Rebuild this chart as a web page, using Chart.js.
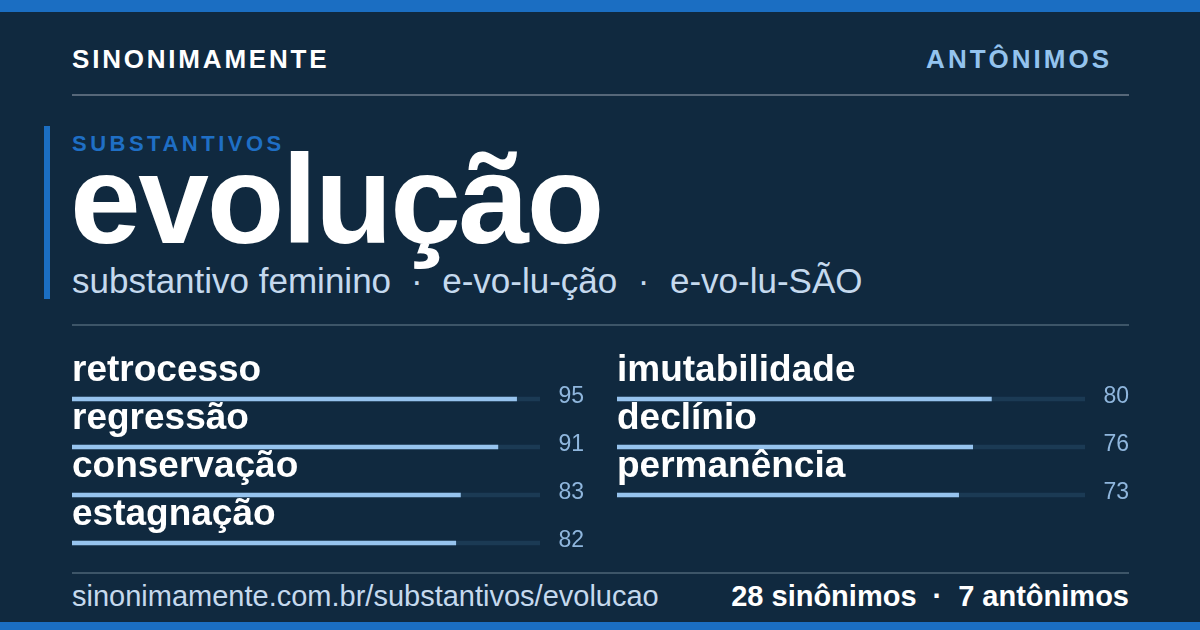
<!DOCTYPE html>
<html>
<head>
<meta charset="utf-8">
<script src="https://cdn.jsdelivr.net/npm/chart.js@4.4.0/dist/chart.umd.min.js"></script>
<style>
  html, body { margin: 0; padding: 0; }
  body { width: 1200px; height: 630px; background: #10293f; position: relative; overflow: hidden;
         font-family: "Liberation Sans", Arial, sans-serif; }
  .abs { position: absolute; line-height: 1; white-space: nowrap; }
  .band { position: absolute; left: 0; width: 1200px; background: #1b6ec2; }
  .rule { position: absolute; left: 72px; width: 1057px; height: 2px; }
  canvas { position: absolute; }
</style>
</head>
<body>
<div class="band" style="top:0;height:12px"></div>
<div class="band" style="top:622px;height:8px"></div>

<div class="abs" style="left:72px;top:46px;font-size:26px;font-weight:bold;letter-spacing:2.8px;color:#ffffff">SINONIMAMENTE</div>
<div class="abs" style="right:88px;top:46px;font-size:26px;font-weight:bold;letter-spacing:3px;color:#93c3ee">ANTÔNIMOS</div>
<div class="rule" style="top:94px;background:#566779"></div>

<div style="position:absolute;left:44px;top:126px;width:6px;height:173px;background:#1b6ec2"></div>
<div class="abs" style="left:72px;top:133px;font-size:22px;font-weight:bold;letter-spacing:3.5px;color:#1f6fc5">SUBSTANTIVOS</div>
<div class="abs" style="left:70px;top:136px;font-size:127px;font-weight:bold;letter-spacing:-2.3px;color:#ffffff">evolução</div>
<div class="abs" style="left:72px;top:263px;font-size:35px;color:#c5d9ee">substantivo feminino<span style="margin:0 19.5px 0 20px">·</span>e-vo-lu-ção<span style="margin:0 20.5px 0 20.5px">·</span>e-vo-lu-SÃO</div>
<div class="rule" style="top:324px;background:#3d5568"></div>

<canvas id="synChart" width="512" height="222" style="left:72px;top:345px"></canvas>
<canvas id="antChart" width="512" height="174" style="left:617px;top:345px"></canvas>

<div class="rule" style="top:572px;background:#3d5568"></div>
<div class="abs" style="left:72px;top:582px;font-size:29px;color:#c5d9ee">sinonimamente.com.br/substantivos/evolucao</div>
<div class="abs" style="right:71px;top:582px;font-size:29px;font-weight:bold;color:#ffffff">28 sinônimos<span style="margin:0 16px">·</span>7 antônimos</div>

<script>
const synonyms = ['retrocesso', 'regressão', 'conservação', 'estagnação'];
const synonymScores = [95, 91, 83, 82];
const antonyms = ['imutabilidade', 'declínio', 'permanência'];
const antonymScores = [80, 76, 73];
const scoreMax = 100;

// draws the word above each bar and the score at the right
const wordLabels = {
    id: 'wordLabels',
    afterDatasetsDraw(chart) {
        const ctx = chart.ctx;
        const meta = chart.getDatasetMeta(0);
        ctx.save();
        ctx.textBaseline = 'alphabetic';
        meta.data.forEach((bar, i) => {
            ctx.font = 'bold 37px "Liberation Sans", Arial, sans-serif';
            ctx.fillStyle = '#ffffff';
            ctx.textAlign = 'left';
            ctx.fillText(chart.data.labels[i], chart.chartArea.left, bar.y - 18);
            ctx.font = '23px "Liberation Sans", Arial, sans-serif';
            ctx.fillStyle = '#8fb6dd';
            ctx.textAlign = 'right';
            ctx.fillText(String(chart.data.datasets[0].data[i]), chart.width, bar.y + 4);
        });
        ctx.restore();
    }
};

function makeChart(id, labels, scores) {
    return new Chart(document.getElementById(id), {
        type: 'bar',
        data: {
            labels: labels,
            datasets: [
                {
                    data: scores,
                    backgroundColor: '#96c3ee',
                    barThickness: 4,
                    grouped: false,
                    order: 1
                },
                {
                    data: labels.map(() => scoreMax),
                    backgroundColor: '#1b3a54',
                    barThickness: 4,
                    grouped: false,
                    order: 2
                }
            ]
        },
        options: {
            indexAxis: 'y',
            responsive: false,
            animation: false,
            layout: { padding: { top: 30, right: 44, left: 0, bottom: 0 } },
            scales: {
                x: { display: false, min: 0, max: scoreMax },
                y: { display: false }
            },
            plugins: {
                legend: { display: false },
                tooltip: { enabled: false }
            }
        },
        plugins: [wordLabels]
    });
}

makeChart('synChart', synonyms, synonymScores);
makeChart('antChart', antonyms, antonymScores);
</script>
</body>
</html>
